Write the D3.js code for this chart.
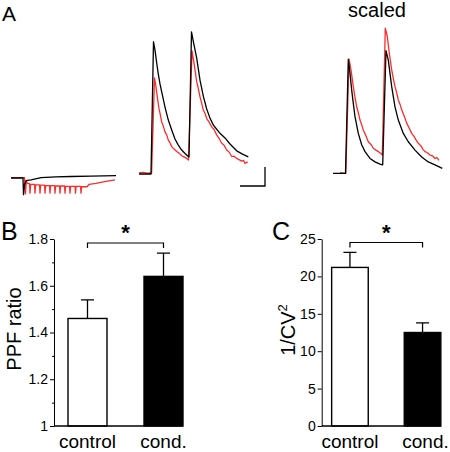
<!DOCTYPE html>
<html>
<head>
<meta charset="utf-8">
<script src="https://cdn.jsdelivr.net/npm/d3@7"></script>
<style>
html,body{margin:0;padding:0;background:#fff;}
svg{display:block;font-family:"Liberation Sans",Arial,Helvetica,sans-serif;}
</style>
</head>
<body>
<script>
// ---------------- DATA ----------------
// Panel A traces: [time (ms), current (pA)]
const blackTrace1 = [[0,0],[12,0],[12.5,-44],[13.5,-18],[15,-7],[20,-5],[30,1],[45,3],[60,4],[80,5],[105,6]];
const redTrace1 = [[0,1],[13.5,1],[14.5,-42],[15.3,-8],[16.5,-14],[17.5,-15],
  [18.6,-15],[19,-40],[19.6,-17],
  [23.6,-17],[24,-40],[24.6,-18],
  [28.6,-18],[29,-40],[29.6,-19],
  [33.6,-19],[34,-40],[34.6,-20],
  [38.6,-20],[39,-40],[39.6,-20],
  [43.6,-20],[44,-40],[44.6,-21],
  [48.6,-21],[49,-40],[49.6,-21],
  [53.6,-21],[54,-40],[54.6,-22],
  [58.6,-22],[59,-40],[59.6,-22],
  [64.1,-22],[64.5,-40],[65.1,-22],
  [69.6,-22],[70,-40],[70.6,-23],
  [76,-23],[78,-17],[85,-14],[95,-9],[104,-5]];

const blackTrace2 = [[0,0],[12,0],[14.5,348],[16,326],[17.7,292],[19.3,263],[21,237],[22.7,216],[26,176],
  [29.3,142],[32.7,116],[36,92],[39.3,76],[42.7,63],[46,54],[49.3,46],[50,45],[52.5,374],[54,353],
  [57.7,305],[61,247],[64.3,205],[67.7,171],[71,147],[74.3,129],[81,107],[86,95],[91,79],[97.7,61],
  [103,53],[109.3,45]];
const redTrace2 = [[0,3],[4,4],[8,2],[12,3],[12.6,2],[15.5,253],[16.7,234],[18.3,203],[20,172],[21.3,156],
  [22.7,137],[24.3,126],[26,111],[27.7,103],[29.3,89],[31,82],[32.7,72],[35,66],[37.7,59],[40,55],[42.7,48],
  [45,45],[47.7,41],[49.5,37],[53,324],[55.3,287],[57.7,243],[59.3,225],[61,203],[62.7,186],[64.3,168],
  [66,160],[67.7,146],[70,137],[72.7,124],[75,117],[77.7,103],[80,94],[82.7,81],[85,76],[87.7,63],[90,58],
  [92.7,46],[95,47],[97.7,41],[100,38],[102.7,34],[104.5,36],[106,28],[108.7,32]];

const blackTrace3 = [[0,0],[12.5,0],[15.3,300],[17,263],[18.7,219],[20.3,184],[22,149],[25.3,105],[28.7,75],
  [32,57],[37,39],[42,30],[47,24],[49.7,22],[53,323],[55.3,298],[57,263],[58.7,228],[62,175],[65.3,140],
  [70.3,105],[75.3,83],[82,61],[88.7,43],[95.3,30],[102,22],[109.3,13]];
const redTrace3 = [[7,2],[12.8,0],[16,301],[18,272],[20.3,228],[22,200],[23.7,175],[25.3,160],[27,140],
  [28.7,128],[30.3,114],[33,98],[35.3,83],[38,76],[40.3,66],[43,61],[45.3,57],[47.5,53],[49.3,48],
  [52.3,382],[54.3,360],[56.3,316],[58.7,272],[60.3,250],[62,228],[63.7,212],[65.3,193],[67,182],[68.7,167],
  [71,152],[73.7,132],[76,120],[78.7,105],[81,97],[83,88],[85.3,79],[88,72],[90,63],[92,57],[94.5,54],
  [97,48],[99.5,46],[102,39],[104,41],[106,34]];

const scaleBarPA = 50;   // pA
const scaleBarMs = 25;   // ms

// Panel B
const categories = ["control", "cond."];
const ppfMean = [1.46, 1.64];
const ppfErr = [0.08, 0.10];
const ppfTicks = [1, 1.2, 1.4, 1.6, 1.8];
const ppfMinorTicks = [1.1, 1.3, 1.5, 1.7];

// Panel C
const cvMean = [21.2, 12.5];
const cvErr = [2.0, 1.3];
const cvTicks = [0, 5, 10, 15, 20, 25];
const cvMinorTicks = [];

const barFills = ["#fff", "#000"];

// ---------------- DRAW ----------------
const svg = d3.select("body").append("svg").attr("width", 450).attr("height", 452);

// Panel A
svg.append("text").attr("x", 2).attr("y", 21).attr("font-size", 21).text("A");
svg.append("text").attr("x", 377).attr("y", 17).attr("font-size", 20).attr("text-anchor", "middle").text("scaled");

function traceScales(x0, base) {
  return {
    x: d3.scaleLinear().domain([0, 110]).range([x0, x0 + 110]),
    y: d3.scaleLinear().domain([0, 100]).range([base, base - 38])
  };
}
function drawTrace(data, s, color) {
  const line = d3.line().x(d => s.x(d[0])).y(d => s.y(d[1]));
  svg.append("path").datum(data).attr("d", line).attr("fill", "none")
    .attr("stroke", color).attr("stroke-width", 1.3).attr("stroke-linejoin", "round");
}
const s1 = traceScales(11, 178);
const s2 = traceScales(139, 174);
const s3 = traceScales(333, 173.3);
drawTrace(redTrace1, s1, "#ff2a2a");
drawTrace(blackTrace1, s1, "#000");
drawTrace(redTrace2, s2, "#ff2a2a");
drawTrace(blackTrace2, s2, "#000");
drawTrace(redTrace3, s3, "#ff2a2a");
drawTrace(blackTrace3, s3, "#000");

// Scale bar (corner at 265,186) using panel-2 scales
{
  const cx = 265, cy = 186;
  const wPx = s2.x(scaleBarMs) - s2.x(0);
  const hPx = s2.y(0) - s2.y(scaleBarPA);
  svg.append("path")
    .attr("d", `M${cx - wPx},${cy}H${cx}V${cy - hPx}`)
    .attr("fill", "none").attr("stroke", "#000").attr("stroke-width", 1.3);
}

// Bar panel function
function barPanel(opts) {
  const g = svg.append("g");
  const y = d3.scaleLinear().domain(opts.domain).range([426, 239]);
  const x = d3.scaleBand().domain(categories).range(opts.xRange)
    .paddingInner(opts.padInner).paddingOuter(0.25);
  const axisX = opts.axisX;

  // bars
  g.selectAll("rect.bar").data(categories).enter().append("rect")
    .attr("x", d => x(d)).attr("width", x.bandwidth())
    .attr("y", (d, i) => y(opts.mean[i]))
    .attr("height", (d, i) => y(opts.domain[0]) - y(opts.mean[i]))
    .attr("fill", (d, i) => barFills[i]).attr("stroke", "#000").attr("stroke-width", 1.4);

  // error bars (upward only)
  categories.forEach((c, i) => {
    const cxm = x(c) + x.bandwidth() / 2;
    const top = y(opts.mean[i] + opts.err[i]);
    g.append("path").attr("d", `M${cxm},${y(opts.mean[i])}V${top}M${cxm - 6.5},${top}H${cxm + 6.5}`)
      .attr("stroke", "#000").attr("stroke-width", 1.3).attr("fill", "none");
  });

  // baseline
  g.append("line").attr("x1", axisX).attr("x2", x(categories[1]) + x.bandwidth())
    .attr("y1", y(opts.domain[0])).attr("y2", y(opts.domain[0]))
    .attr("stroke", "#000").attr("stroke-width", 1.3);

  // axis
  const ax = g.append("g").attr("transform", `translate(${axisX},0)`)
    .call(d3.axisLeft(y).tickValues(opts.ticks).tickSize(4).tickSizeOuter(0).tickPadding(2)
      .tickFormat(opts.fmt));
  ax.select(".domain").attr("stroke-width", 1);
  ax.selectAll("text").attr("font-size", 14).attr("font-family", "Liberation Sans, Arial, sans-serif");
  if (opts.minor.length) {
    const mi = g.append("g").attr("transform", `translate(${axisX},0)`)
      .call(d3.axisLeft(y).tickValues(opts.minor).tickSize(2).tickSizeOuter(0).tickFormat(""));
    mi.select(".domain").remove();
  }

  // category labels
  g.selectAll("text.cat").data(categories).enter().append("text")
    .attr("x", d => x(d) + x.bandwidth() / 2 + (d === "cond." ? opts.condShift : 0))
    .attr("y", 448).attr("text-anchor", "middle").attr("font-size", 19).text(d => d);

  // significance bracket
  const bx1 = x(categories[0]) + x.bandwidth() / 2;
  const bx2 = x(categories[1]) + x.bandwidth() / 2;
  const by = opts.bracketY;
  g.append("path").attr("d", `M${bx1},${by + 5}V${by}H${bx2}V${by + 5}`)
    .attr("fill", "none").attr("stroke", "#000").attr("stroke-width", 1.2);
  g.append("text").attr("x", (bx1 + bx2) / 2).attr("y", by - 3).attr("text-anchor", "middle")
    .attr("font-size", 22).attr("font-weight", "bold").text("*");

  // panel letter
  g.append("text").attr("x", opts.letterX).attr("y", 239.5).attr("font-size", 25).text(opts.letter);

  // y title
  const t = g.append("text").attr("transform", `translate(${opts.titleX},${opts.titleY}) rotate(-90)`)
    .attr("text-anchor", "middle").attr("font-size", 20);
  return { g, t };
}

const pB = barPanel({
  domain: [1, 1.8], mean: ppfMean, err: ppfErr, ticks: ppfTicks, minor: ppfMinorTicks,
  fmt: d => d === 1 ? "1" : d3.format(".1f")(d),
  xRange: [49, 202], padInner: 0.487, axisX: 54, bracketY: 243, letter: "B", letterX: 1,
  titleX: 20.5, titleY: 329, condShift: 0
});
pB.t.text("PPF ratio");

const pC = barPanel({
  domain: [0, 25], mean: cvMean, err: cvErr, ticks: cvTicks, minor: cvMinorTicks,
  fmt: d3.format("d"),
  xRange: [313.5, 459], padInner: 0.496, axisX: 321.7, bracketY: 242.5, letter: "C", letterX: 272,
  titleX: 294.5, titleY: 330, condShift: 3
});
pC.t.append("tspan").text("1/CV");
pC.t.append("tspan").attr("font-size", 13).attr("dy", -8).text("2");
</script>
</body>
</html>
